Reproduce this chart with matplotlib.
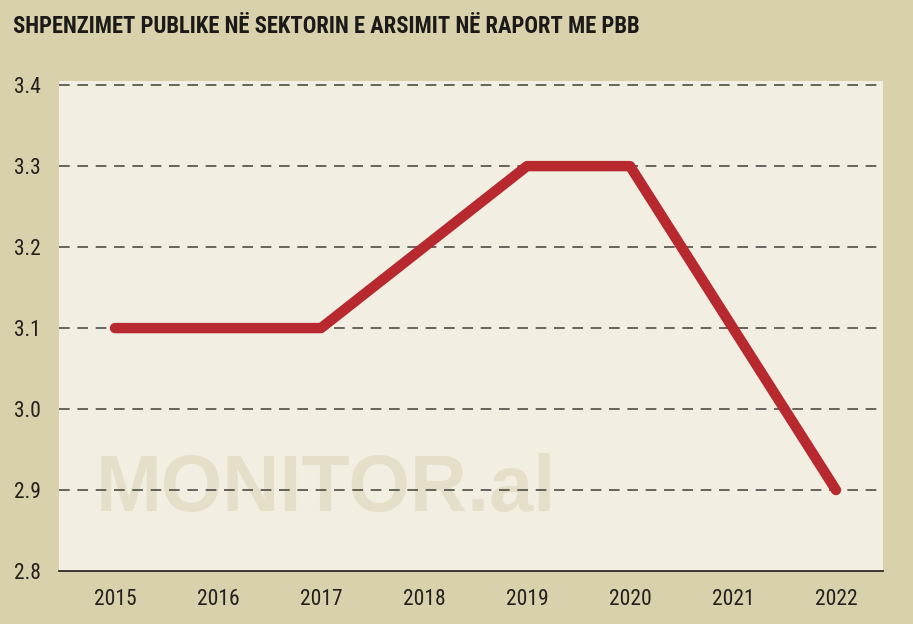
import matplotlib
matplotlib.use("Agg")
import matplotlib.pyplot as plt

# data
years = [2015, 2016, 2017, 2018, 2019, 2020, 2021, 2022]
share_gdp = [3.1, 3.1, 3.1, 3.2, 3.3, 3.3, 3.1, 2.9]
y_ticks = [2.8, 2.9, 3.0, 3.1, 3.2, 3.3, 3.4]
title = "SHPENZIMET PUBLIKE NË SEKTORIN E ARSIMIT NË RAPORT ME PBB"
watermark = "MONITOR.al"

BG = "#d9d0ac"
PANEL = "#f2efe2"
RED = "#b8282f"
NARROW = ["Roboto Condensed", "DejaVu Sans"]

fig = plt.figure(figsize=(9.13, 6.24), dpi=100, facecolor=BG)
ax = fig.add_axes([0.0646, 0.0849, 0.9025, 0.7858], facecolor=PANEL)

ax.plot(years, share_gdp, color=RED, lw=7.5, solid_capstyle="round",
        solid_joinstyle="round", zorder=3)

ax.set_xlim(2014.456, 2022.456)
ax.set_ylim(2.8, 3.4055)
ax.set_yticks(y_ticks)
ax.set_yticklabels([f"{v:.1f}" for v in y_ticks])
ax.set_xticks(years)

for y in y_ticks[1:]:
    ax.axhline(y, color="#3f3f3a", lw=1.1, ls=(0, (7, 5)), zorder=1)

for s in ["left", "right", "top"]:
    ax.spines[s].set_visible(False)
ax.spines["bottom"].set_color("#1a1a1a")
ax.spines["bottom"].set_linewidth(1.2)

ax.tick_params(axis="both", length=0, labelcolor="#231f1c", labelsize=15.5)
ax.tick_params(axis="y", pad=13)
ax.tick_params(axis="x", pad=13)
for lab in ax.get_xticklabels() + ax.get_yticklabels():
    lab.set_family(NARROW)

ax.text(0.324, 0.165, watermark, transform=ax.transAxes, ha="center",
        va="center", fontsize=57, fontweight="bold", color="#e5dfca",
        family=["Liberation Sans", "DejaVu Sans"], zorder=0)

fig.text(0.014, 0.9575, title, ha="left", va="center", fontsize=16.3,
         fontweight="bold", color="#1c1a18", family=NARROW)

fig.savefig("out.png", dpi=100, facecolor=BG)
